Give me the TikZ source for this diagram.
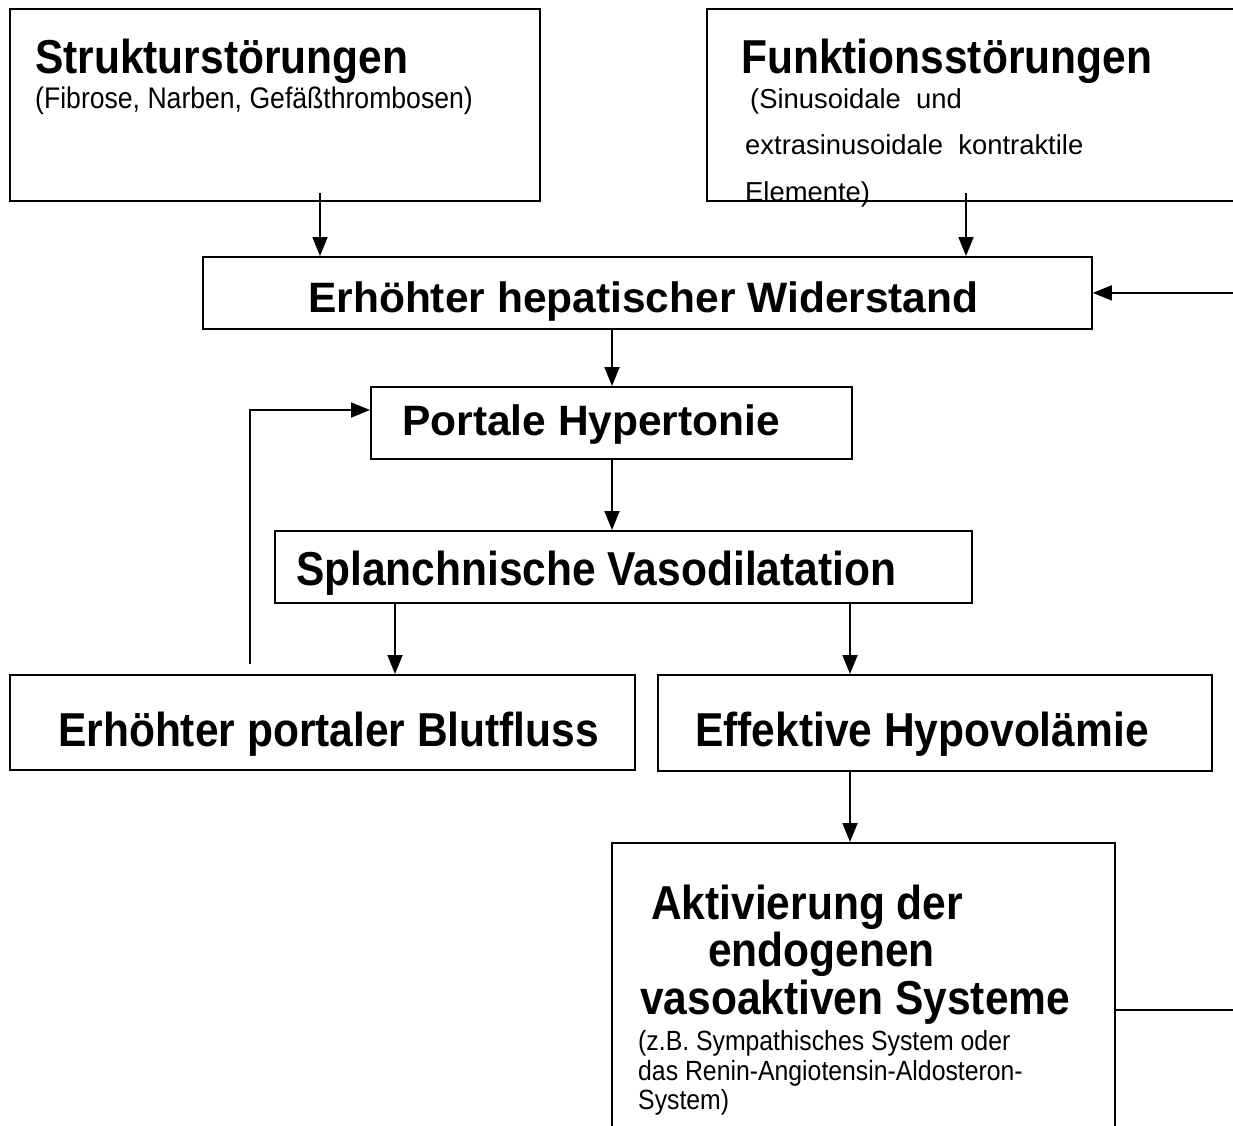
\documentclass[tikz,border=0pt]{standalone}
\usepackage{fontspec}
\usepackage{graphicx}
\setmainfont{Liberation Sans}
\usetikzlibrary{arrows.meta}
\newcommand\talltxt[1]{\scalebox{1}[1.12]{#1}}
\tikzset{
  box/.style={draw, line width=1.8pt, inner sep=0pt, anchor=north west},
  ttl/.style={anchor=base west, inner sep=0pt, font=\fontsize{42.5}{48}\selectfont\bfseries},
  subA/.style={anchor=base west, inner sep=0pt, font=\fontsize{26.6}{30}\selectfont},
  subB/.style={anchor=base west, inner sep=0pt, font=\fontsize{27.4}{30}\selectfont},
  subC/.style={anchor=base west, inner sep=0pt, font=\fontsize{24.8}{30}\selectfont},
  arr/.style={line width=1.8pt, -{Triangle[length=19pt,width=15pt]}},
  ln/.style={line width=1.8pt}
}
\begin{document}
\begin{tikzpicture}[x=1pt,y=-1pt]
\useasboundingbox (0,0) rectangle (1233,1126);
\fill[white] (0,0) rectangle (1233,1126);
\clip (0,0) rectangle (1233,1126);
% boxes
\node[box, minimum width=530pt, minimum height=192pt] (s1) at (9,8) {};
\node[box, minimum width=560pt, minimum height=192pt] (s2) at (706,8) {};
\node[box, minimum width=889pt, minimum height=72pt] (w) at (202,256) {};
\node[box, minimum width=481pt, minimum height=72pt] (p) at (370,386) {};
\node[box, minimum width=697pt, minimum height=72pt] (sp) at (274,530) {};
\node[box, minimum width=625pt, minimum height=95pt] (bf) at (9,674) {};
\node[box, minimum width=554pt, minimum height=96pt] (hv) at (657,674) {};
\node[box, minimum width=503pt, minimum height=320pt] (ak) at (611,842) {};
% texts
\node[ttl] (t1) at (35,74) {\talltxt{Strukturstörungen}};
\node[subA] (t1s) at (35,109) {\talltxt{(Fibrose, Narben, Gefäßthrombosen)}};
\node[ttl] (t2) at (741,74) {\talltxt{Funktionsstörungen}};
\node[subB] (t2a) at (750,109) {(Sinusoidale\ \ und};
\node[subB] (t2b) at (745,155) {extrasinusoidale\ \ kontraktile};
\node[subB] (t2c) at (745,201) {Elemente)};
\node[ttl] (t3) at (308,312) {Erhöhter hepatischer Widerstand};
\node[ttl] (t4) at (402,435) {Portale Hypertonie};
\node[ttl] (t5) at (296,585) {\talltxt{Splanchnische Vasodilatation}};
\node[ttl] (t6) at (58,746) {\talltxt{Erhöhter portaler Blutfluss}};
\node[ttl] (t7) at (695,746) {\talltxt{Effektive Hypovolämie}};
\node[ttl] (t8a) at (651,919) {\talltxt{Aktivierung der}};
\node[ttl] (t8b) at (708,966) {\talltxt{endogenen}};
\node[ttl] (t8c) at (640,1014) {\talltxt{vasoaktiven Systeme}};
\node[subC] (t8d) at (638,1050) {\talltxt{(z.B. Sympathisches System oder}};
\node[subC] (t8e) at (638,1080) {\talltxt{das Renin-Angiotensin-Aldosteron-}};
\node[subC] (t8f) at (638,1109) {\talltxt{System)}};
% connector points
\coordinate (c1) at (320,193);
\coordinate (c2) at (966,193);
\coordinate (c3) at (612,0);
\coordinate (c4) at (395,0);
\coordinate (c5) at (850,0);
\coordinate (fb) at (250,664);
\coordinate (fbt) at (250,410);
\coordinate (ra) at (1114,1010);
\coordinate (rx) at (1250,1010);
% connectors
\draw[arr] (c1) -- (c1 |- w.north);
\draw[arr] (c2) -- (c2 |- w.north);
\draw[arr] (c3 |- w.south) -- (c3 |- p.north);
\draw[arr] (c3 |- p.south) -- (c3 |- sp.north);
\draw[arr] (c4 |- sp.south) -- (c4 |- bf.north);
\draw[arr] (c5 |- sp.south) -- (c5 |- hv.north);
\draw[arr] (c5 |- hv.south) -- (c5 |- ak.north);
\draw[arr] (fb) -- (fbt) -- (fbt -| p.west);
\draw[ln] (ra) -- (rx);
\draw[arr] (rx) -- (rx |- w.east) -- (w.east);
\end{tikzpicture}
\end{document}
